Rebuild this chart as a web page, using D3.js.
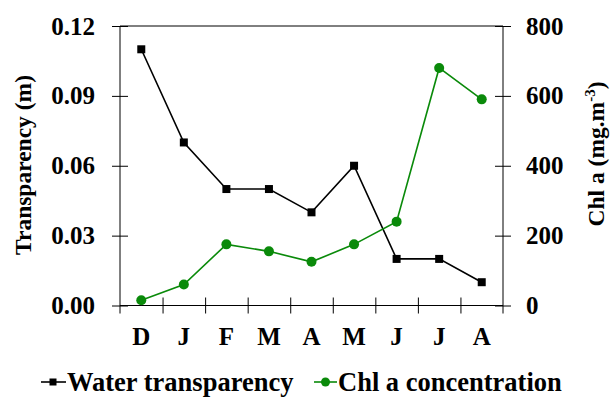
<!DOCTYPE html>
<html>
<head>
<meta charset="utf-8">
<script src="https://cdn.jsdelivr.net/npm/d3@7"></script>
<style>
  html, body { margin: 0; padding: 0; background: #fff; }
  #chart text, #chart tspan { font-family: 'Liberation Serif', 'Times New Roman', monospace; font-weight: bold; }
</style>
</head>
<body>
<svg id="chart" width="611" height="397"></svg>
<script>
// Monthly sampling (December to August)
const months = ["D", "J", "F", "M", "A", "M", "J", "J", "A"];
const transparency = [0.11, 0.07, 0.05, 0.05, 0.04, 0.06, 0.02, 0.02, 0.01];
const chlA = [15, 60, 175, 155, 125, 175, 240, 680, 590];
const leftTicks = [0, 0.03, 0.06, 0.09, 0.12];
const rightTicks = [0, 200, 400, 600, 800];

const svg = d3.select("#chart");
const plot = { left: 120, right: 503, top: 26, bottom: 305.5 };
const green = "#0a8a0a";

const x = d3.scaleBand().domain(d3.range(months.length)).range([plot.left, plot.right]);
const xEdge = d3.scaleLinear().domain([0, months.length]).range([plot.left, plot.right]);
const yL = d3.scaleLinear().domain([0, 0.12]).range([plot.bottom, plot.top]);
const yR = d3.scaleLinear().domain([0, 800]).range([plot.bottom, plot.top]);

const tick = 8;

// Left axis, ticks crossing the spine
const gL = svg.append("g").attr("transform", `translate(${plot.left},0)`)
  .call(d3.axisLeft(yL).tickValues(leftTicks).tickFormat(d3.format(".2f")).tickSizeOuter(0).tickSize(tick).tickPadding(17));
gL.selectAll(".tick line").attr("x1", tick);
gL.select(".domain").attr("d", `M0,${plot.top}V${plot.bottom + tick}`);

// Right axis
const gR = svg.append("g").attr("transform", `translate(${plot.right},0)`)
  .call(d3.axisRight(yR).tickValues(rightTicks).tickFormat(d3.format("d")).tickSizeOuter(0).tickSize(tick).tickPadding(15));
gR.selectAll(".tick line").attr("x1", -tick);
gR.select(".domain").attr("d", `M0,${plot.top}V${plot.bottom + tick}`);

// Top frame line
svg.append("line")
  .attr("x1", plot.left).attr("x2", plot.right)
  .attr("y1", plot.top).attr("y2", plot.top)
  .attr("stroke", "#000");

// Bottom axis: tick marks on month boundaries
const gB = svg.append("g").attr("transform", `translate(0,${plot.bottom})`)
  .call(d3.axisBottom(xEdge).tickValues(d3.range(1, months.length)).tickFormat("").tickSize(tick).tickSizeOuter(0));
gB.selectAll(".tick line").attr("y1", -tick);
gB.select(".domain").attr("d", `M${plot.left},0H${plot.right}`);

// Month labels centred in each band
const gBL = svg.append("g").attr("transform", `translate(0,${plot.bottom})`)
  .call(d3.axisBottom(x).tickFormat(i => months[i]).tickSize(0).tickPadding(22));
gBL.select(".domain").remove();

[gL, gR, gB, gBL].forEach(g => {
  g.attr("font-family", null).attr("font-size", null);
  g.selectAll("line, path").attr("stroke", "#000").attr("stroke-width", 1);
  g.selectAll("text").attr("fill", "#000").style("font-size", "25px");
});
gBL.selectAll("text").attr("dy", "0.71em");

// Axis titles
svg.append("text")
  .attr("transform", `translate(31,165) rotate(-90)`)
  .attr("text-anchor", "middle")
  .style("font-size", "23.5px")
  .text("Transparency (m)");

const rt = svg.append("text")
  .attr("transform", `translate(604,154) rotate(-90)`)
  .attr("text-anchor", "middle")
  .style("font-size", "23.5px");
rt.append("tspan").text("Chl a (mg.m");
rt.append("tspan").attr("dy", "-9").style("font-size", "15px").text("-3");
rt.append("tspan").attr("dy", "9").text(")");

// Series lines
const lineT = d3.line().x((d, i) => x(i) + x.bandwidth() / 2).y(d => yL(d));
const lineC = d3.line().x((d, i) => x(i) + x.bandwidth() / 2).y(d => yR(d));

svg.append("path").datum(transparency)
  .attr("d", lineT).attr("fill", "none").attr("stroke", "#000").attr("stroke-width", 1.6);
svg.append("path").datum(chlA)
  .attr("d", lineC).attr("fill", "none").attr("stroke", green).attr("stroke-width", 1.6);

const sq = 8;
svg.append("g").selectAll("rect").data(transparency).join("rect")
  .attr("x", (d, i) => x(i) + x.bandwidth() / 2 - sq / 2)
  .attr("y", d => yL(d) - sq / 2)
  .attr("width", sq).attr("height", sq).attr("fill", "#000");

svg.append("g").selectAll("circle").data(chlA).join("circle")
  .attr("cx", (d, i) => x(i) + x.bandwidth() / 2)
  .attr("cy", d => yR(d))
  .attr("r", 5).attr("fill", green);

// Legend
const legY = 382;
const leg = svg.append("g");
leg.append("line").attr("x1", 41).attr("x2", 66).attr("y1", legY).attr("y2", legY).attr("stroke", "#000").attr("stroke-width", 1.6);
leg.append("rect").attr("x", 49.5).attr("y", legY - 3.5).attr("width", 7).attr("height", 7).attr("fill", "#000");
leg.append("text").attr("x", 67).attr("y", legY).attr("dy", "0.35em").style("font-size", "26.5px").text("Water transparency");

leg.append("line").attr("x1", 314).attr("x2", 337).attr("y1", legY).attr("y2", legY).attr("stroke", green).attr("stroke-width", 1.6);
leg.append("circle").attr("cx", 325.5).attr("cy", legY).attr("r", 4.5).attr("fill", green);
leg.append("text").attr("x", 338).attr("y", legY).attr("dy", "0.35em").style("font-size", "26.5px").text("Chl a concentration");
</script>
</body>
</html>
